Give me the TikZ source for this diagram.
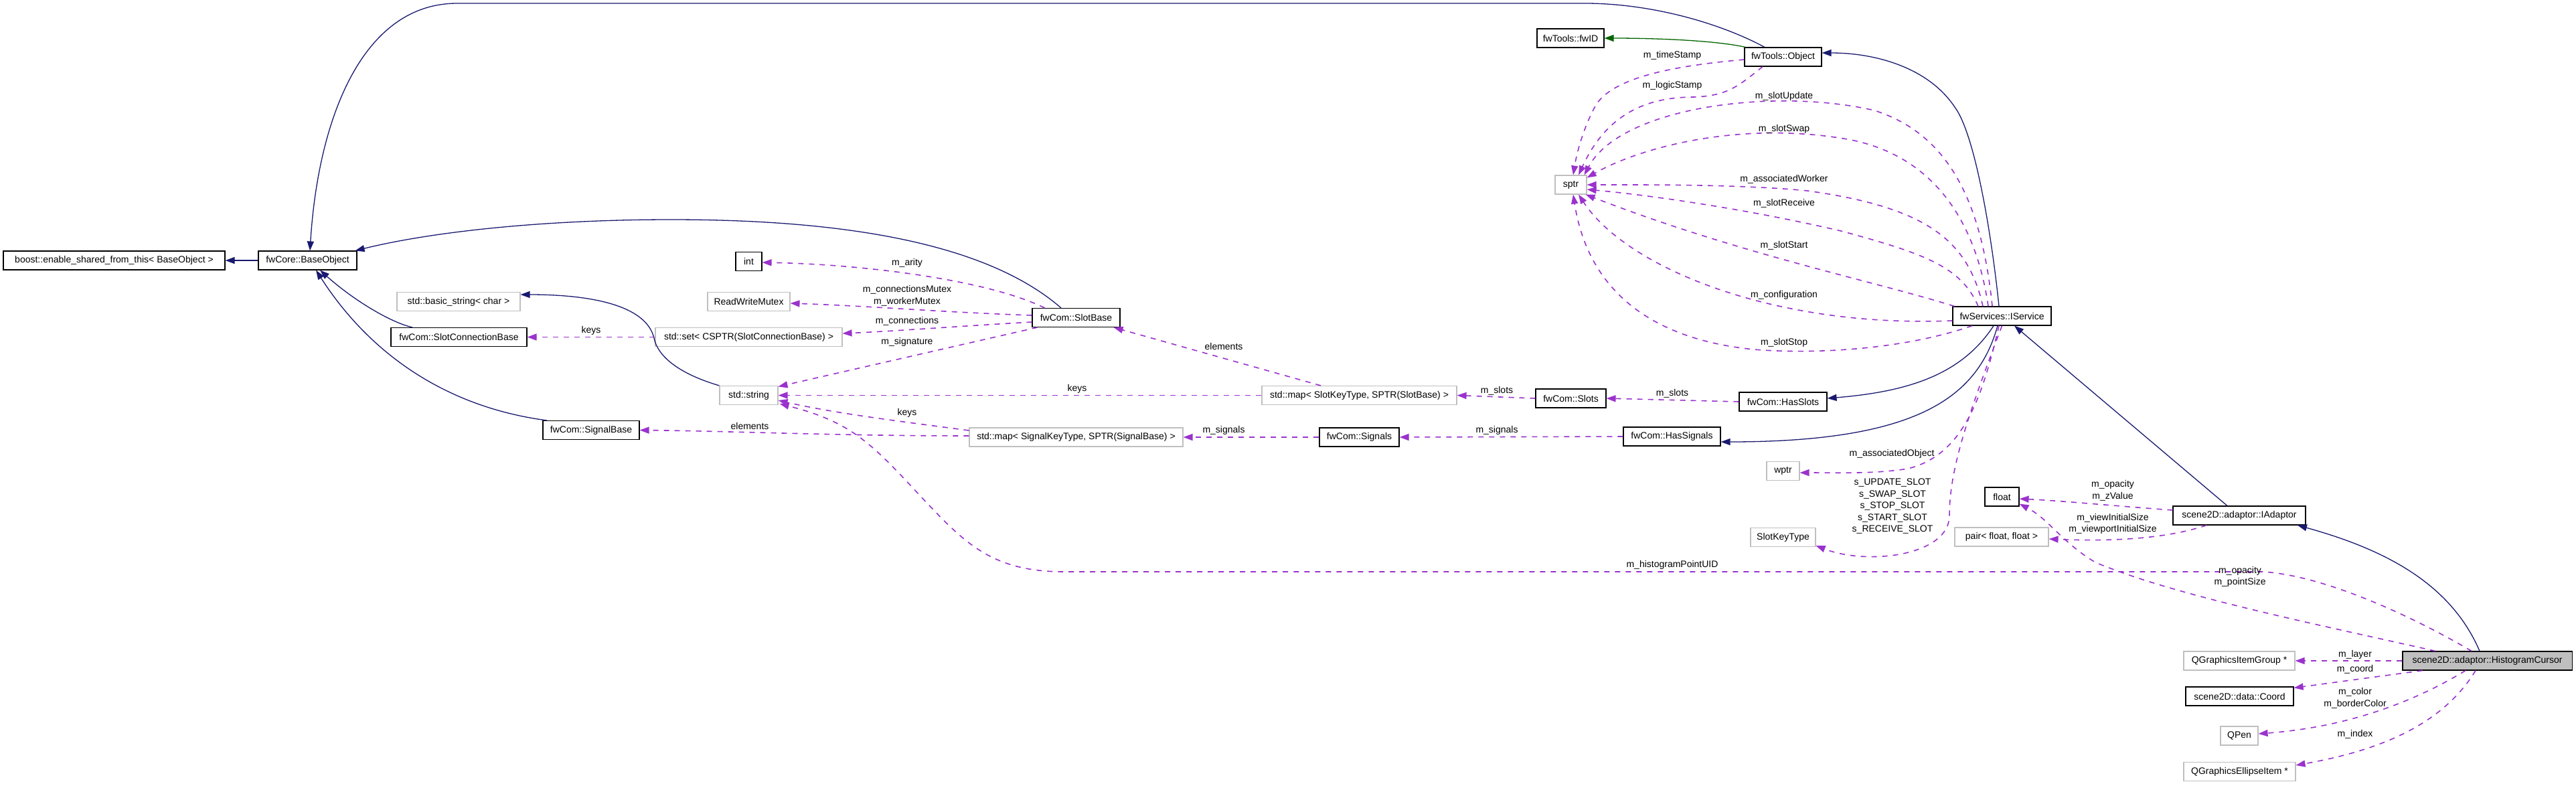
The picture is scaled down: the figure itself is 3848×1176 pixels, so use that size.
\documentclass[tikz,border=0pt]{standalone}
\usepackage{fontspec}
\setmainfont{Liberation Sans}
\usetikzlibrary{arrows.meta,calc}
\definecolor{navy}{HTML}{191970}
\definecolor{orchid}{HTML}{9A32CD}
\definecolor{dgreen}{HTML}{006400}
\definecolor{greyb}{HTML}{BFBFBF}
\tikzset{
 cls/.style={draw=black, line width=1.1pt, minimum height=28pt, inner sep=0pt, font=\fontsize{14}{17}\selectfont, fill=white},
 ext/.style={cls, draw=greyb},
 inh/.style={draw=navy, line width=1.3pt, -{Triangle[length=14pt,width=10pt]}},
 grn/.style={draw=dgreen, line width=1.3pt, -{Triangle[length=14pt,width=10pt]}},
 mem/.style={draw=orchid, line width=1.6pt, dash pattern=on 8pt off 8pt, -{Triangle[length=14pt,width=10pt]}},
 lbl/.style={font=\fontsize{14}{17.5}\selectfont, align=center, inner sep=0pt},
}
\begin{document}
\begin{tikzpicture}[x=1pt,y=-1pt]
\useasboundingbox (0,0) rectangle (3848,1176);
% nodes
\node[cls, minimum width=331pt] (boost) at (170.5,389) {boost::enable\_shared\_from\_this< BaseObject >};
\node[cls, minimum width=147pt] (base) at (459.5,389) {fwCore::BaseObject};
\node[ext, minimum width=184pt] (bstr) at (685,450.5) {std::basic\_string< char >};
\node[cls, minimum width=203pt] (scb) at (685.5,503.5) {fwCom::SlotConnectionBase};
\node[cls, minimum width=144pt] (sigbase) at (883,642.5) {fwCom::SignalBase};
\node[cls, minimum width=39pt] (int) at (1118.5,390.5) {int};
\node[ext, minimum width=123pt] (rwm) at (1118.5,450.5) {ReadWriteMutex};
\node[ext, minimum width=279pt] (set) at (1118.5,503.5) {std::set< CSPTR(SlotConnectionBase) >};
\node[ext, minimum width=87pt] (str) at (1118.5,590.5) {std::string};
\node[cls, minimum width=131pt] (slotbase) at (1607.5,474.5) {fwCom::SlotBase};
\node[ext, minimum width=319pt] (mapsig) at (1607.5,653) {std::map< SignalKeyType, SPTR(SignalBase) >};
\node[ext, minimum width=291pt] (mapslot) at (2030.5,590.5) {std::map< SlotKeyType, SPTR(SlotBase) >};
\node[cls, minimum width=119pt] (signals) at (2030.5,653) {fwCom::Signals};
\node[cls, minimum width=105pt] (slots) at (2346.5,595) {fwCom::Slots};
\node[ext, minimum width=47pt] (sptr) at (2346.5,276) {sptr};
\node[cls, minimum width=100pt] (fwid) at (2346,57) {fwTools::fwID};
\node[cls, minimum width=145pt] (hassig) at (2497.5,652) {fwCom::HasSignals};
\node[cls, minimum width=115pt] (obj) at (2663.5,85) {fwTools::Object};
\node[cls, minimum width=131pt] (hasslots) at (2663.5,600) {fwCom::HasSlots};
\node[ext, minimum width=49pt] (wptr) at (2663.5,703.5) {wptr};
\node[ext, minimum width=97pt] (skt) at (2663.5,802.5) {SlotKeyType};
\node[cls, minimum width=147pt] (iserv) at (2990.5,472) {fwServices::IService};
\node[cls, minimum width=51pt] (float) at (2990.5,742) {float};
\node[ext, minimum width=140pt] (pair) at (2990,802) {pair< float, float >};
\node[cls, minimum width=198pt] (iad) at (3345,770) {scene2D::adaptor::IAdaptor};
\node[ext, minimum width=166pt] (qgig) at (3345,987) {QGraphicsItemGroup *};
\node[cls, minimum width=161pt] (coord) at (3345.5,1040) {scene2D::data::Coord};
\node[ext, minimum width=56pt] (qpen) at (3345,1099) {QPen};
\node[ext, minimum width=167pt] (qgei) at (3345.5,1152.5) {QGraphicsEllipseItem *};
\node[cls, minimum width=253pt, fill=greyb] (hc) at (3715.5,987) {scene2D::adaptor::HistogramCursor};
% inheritance
\draw[inh] (base.west) -- (boost.east);
\draw[inh] ([xshift=-27.5]obj.north) .. controls (2570,35) and (2470,6) .. (2372,5) -- (683,5) .. controls (540,5) and (475,180) .. ([xshift=3.5]base.north);
\draw[inh] ([xshift=-22.5]slotbase.north) .. controls (1470,360) and (1250,328) .. (1002,328) .. controls (820,328) and (650,345) .. ([xshift=-3]base.north east);
\draw[inh] ([xshift=-69.5]scb.north) .. controls (585,482) and (530,450) .. ([xshift=18.5]base.south);
\draw[inh] ([xshift=-66]sigbase.north) .. controls (680,610) and (560,540) .. ([xshift=12.5]base.south);
\draw[inh] (str.north west) .. controls (1010,557) and (982,530) .. (977,505) .. controls (965,455) and (880,440) .. ([yshift=10.5]bstr.east);
\draw[grn] ([xshift=2]obj.north west) .. controls (2560,60) and (2470,57) .. (fwid.east);
\draw[inh] ([xshift=-4.5]iserv.north) .. controls (2975,350) and (2950,200) .. (2920,160) .. controls (2880,100) and (2800,79) .. ([yshift=6]obj.east);
\draw[inh] ([xshift=-12.5]iserv.south) .. controls (2930,560) and (2850,585) .. ([yshift=5]hasslots.east);
\draw[inh] ([xshift=-6.5]iserv.south) .. controls (2955,590) and (2870,660) .. ([yshift=-8]hassig.east);
\draw[inh] ([xshift=-18]iad.north) -- ([xshift=18.5]iserv.south);
\draw[inh] ([xshift=-11.5]hc.north) .. controls (3660,870) and (3560,820) .. ([xshift=87]iad.south);
% members
\draw[mem] ([xshift=19]slotbase.north west) .. controls (1480,420) and (1300,395) .. ([yshift=-1.5]int.east);
\draw[mem] ([yshift=3.5]slotbase.west) .. controls (1400,466) and (1300,457) .. ([yshift=-2.5]rwm.east);
\draw[mem] ([yshift=-6.5]slotbase.west) .. controls (1420,488) and (1330,495) .. ([yshift=5.5]set.east);
\draw[mem] ([xshift=8]slotbase.south west) -- ([yshift=-1.5]str.north east);
\draw[mem] ([xshift=-57.5]mapslot.north) -- ([xshift=-10]slotbase.south east);
\draw[mem] (mapslot.west) -- (str.east);
\draw[mem] (set.west) -- (scb.east);
\draw[mem] ([yshift=10]mapsig.west) .. controls (1350,630) and (1250,618) .. ([yshift=-7.5]str.east);
\draw[mem] ([yshift=2]mapsig.west) .. controls (1250,651) and (1100,644) .. (sigbase.east);
\draw[mem] (signals.west) -- (mapsig.east);
\draw[mem] (hassig.west) -- (signals.east);
\draw[mem] (slots.west) -- (mapslot.east);
\draw[mem] (hasslots.west) -- (slots.east);
\draw[mem] ([yshift=-4]obj.west) .. controls (2480,100) and (2410,120) .. (2385,155) .. controls (2365,190) and (2355,230) .. ([xshift=3.5]sptr.north);
\draw[mem] ([xshift=-30.5]obj.south) .. controls (2595,130) and (2580,143) .. (2530,145) .. controls (2460,145) and (2400,170) .. ([xshift=11.5]sptr.north);
\draw[mem] ([xshift=-14.5]iserv.north) .. controls (2960,300) and (2910,200) .. (2800,165) .. controls (2650,130) and (2420,160) .. ([xshift=-4]sptr.north east);
\draw[mem] ([xshift=-20.5]iserv.north) .. controls (2950,320) and (2880,230) .. (2760,208) .. controls (2600,180) and (2450,220) .. ([yshift=-4]sptr.north east);
\draw[mem] ([xshift=-28.5]iserv.north) .. controls (2940,360) and (2880,310) .. (2700,285) .. controls (2600,275) and (2450,276) .. (sptr.east);
\draw[mem] ([xshift=-35.5]iserv.north) .. controls (2930,400) and (2880,380) .. (2750,345) .. controls (2600,310) and (2450,290) .. ([yshift=-7]sptr.east);
\draw[mem] ([xshift=3]iserv.north west) .. controls (2800,420) and (2600,380) .. ([xshift=-2]sptr.south east);
\draw[mem] ([yshift=-7]iserv.west) .. controls (2650,490) and (2430,400) .. ([xshift=11.5]sptr.south);
\draw[mem] ([xshift=-44.5]iserv.south) .. controls (2850,520) and (2720,530) .. (2620,522) .. controls (2450,505) and (2370,420) .. ([xshift=3.5]sptr.south);
\draw[mem] ([xshift=-4.5]iserv.south) .. controls (2960,600) and (2930,680) .. (2850,700) .. controls (2800,708) and (2750,706) .. ([yshift=-2.5]wptr.east);
\draw[mem] (iserv.south) .. controls (2940,620) and (2912,700) .. (2912,770) .. controls (2912,830) and (2790,845) .. ([yshift=2]skt.south east);
\draw[mem] ([yshift=8]iad.west) .. controls (3150,755) and (3080,748) .. ([yshift=-3]float.east);
\draw[mem] ([xshift=-49]iad.south) .. controls (3250,800) and (3180,810) .. ([yshift=-3]pair.east);
\draw[mem] ([xshift=-77.5]hc.north) .. controls (3450,930) and (3250,890) .. (3130,840) .. controls (3080,810) and (3060,775) .. ([yshift=4]float.south east);
\draw[mem] ([xshift=-23.5]hc.north) .. controls (3620,930) and (3480,860) .. (3380,854) -- (1590,854) .. controls (1480,854) and (1440,810) .. (1374,740) .. controls (1300,660) and (1270,630) .. ([xshift=2,yshift=2]str.south east);
\draw[mem] (hc.west) -- (qgig.east);
\draw[mem] ([xshift=30]hc.south west) -- ([yshift=-2]coord.north east);
\draw[mem] ([xshift=-32.5]hc.south) .. controls (3620,1040) and (3520,1085) .. ([yshift=3]qpen.east);
\draw[mem] ([xshift=-17.5]hc.south) .. controls (3650,1080) and (3560,1120) .. ([yshift=9.5]qgei.east);
% labels
\node[lbl] (l1) at (1355,393) {m\_arity};
\node[lbl] (l2) at (1355,442) {m\_connectionsMutex\\m\_workerMutex};
\node[lbl] (l3) at (1355,480) {m\_connections};
\node[lbl] (l4) at (1355,511) {m\_signature};
\node[lbl] (l5) at (1828,517) {elements};
\node[lbl] (l6) at (1609,581) {keys};
\node[lbl] (l7) at (883,494) {keys};
\node[lbl] (l8) at (1355,617) {keys};
\node[lbl] (l9) at (1120,636) {elements};
\node[lbl] (l10) at (1828,643) {m\_signals};
\node[lbl] (l11) at (2236,643) {m\_signals};
\node[lbl] (l12) at (2236,584) {m\_slots};
\node[lbl] (l13) at (2498,588) {m\_slots};
\node[lbl] (l14) at (2498,83) {m\_timeStamp};
\node[lbl] (l15) at (2498,128) {m\_logicStamp};
\node[lbl] (l16) at (2665,144) {m\_slotUpdate};
\node[lbl] (l17) at (2665,193) {m\_slotSwap};
\node[lbl] (l18) at (2665,268) {m\_associatedWorker};
\node[lbl] (l19) at (2665,304) {m\_slotReceive};
\node[lbl] (l20) at (2665,367) {m\_slotStart};
\node[lbl] (l21) at (2665,441) {m\_configuration};
\node[lbl] (l22) at (2665,512) {m\_slotStop};
\node[lbl] (l23) at (2826,678) {m\_associatedObject};
\node[lbl] (l24) at (2827,756) {s\_UPDATE\_SLOT\\s\_SWAP\_SLOT\\s\_STOP\_SLOT\\s\_START\_SLOT\\s\_RECEIVE\_SLOT};
\node[lbl] (l25) at (3156,733) {m\_opacity\\m\_zValue};
\node[lbl] (l26) at (3156,782.5) {m\_viewInitialSize\\m\_viewportInitialSize};
\node[lbl] (l27) at (2498,844) {m\_histogramPointUID};
\node[lbl] (l28) at (3346,861.5) {m\_opacity\\m\_pointSize};
\node[lbl] (l29) at (3518,978) {m\_layer};
\node[lbl] (l30) at (3518,1000) {m\_coord};
\node[lbl] (l31) at (3518,1043) {m\_color\\m\_borderColor};
\node[lbl] (l32) at (3518,1097) {m\_index};
\end{tikzpicture}
\end{document}
